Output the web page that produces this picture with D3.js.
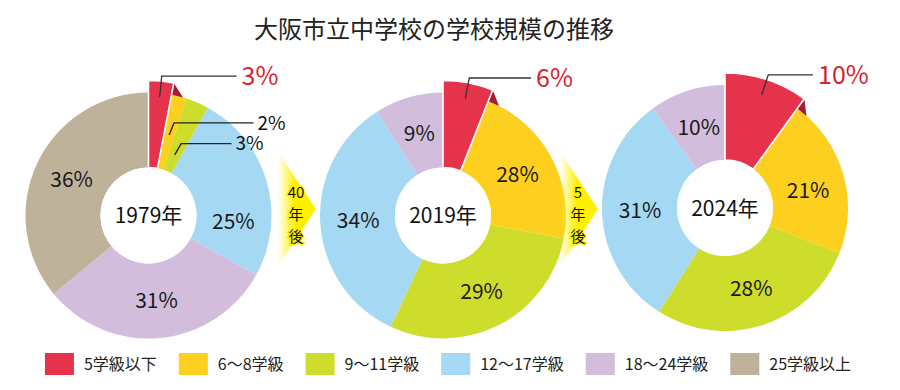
<!DOCTYPE html>
<html><head><meta charset="utf-8">
<script src="https://cdn.jsdelivr.net/npm/d3@7"></script>
<style>
html,body{margin:0;padding:0;background:#fff;}
svg text{font-family:"Noto Sans CJK JP","Noto Sans",sans-serif;}
</style></head>
<body>
<svg id="chart" width="900" height="390"></svg>
<script>
const title = "大阪市立中学校の学校規模の推移";
const categories = ["5学級以下","6～8学級","9～11学級","12～17学級","18～24学級","25学級以上"];
const colors = ["#e6334c","#fdd01f","#cedc2b","#a4d8f3","#d3bddc","#bfb29b"];
const years = ["1979年","2019年","2024年"];
const values1979 = [3,2,3,25,31,36];
const values2019 = [6,22,29,34,9,0];
const values2024 = [10,21,28,31,10,0];
const labels1979 = ["3%","2%","3%","25%","31%","36%"];
const labels2019 = ["6%","28%","29%","34%","9%",""];
const labels2024 = ["10%","21%","28%","31%","10%",""];
const arrowTexts = [["40","年","後"],["5","年","後"]];

const svg = d3.select("#chart");

// title
svg.append("text").attr("x",434).attr("y",38).attr("text-anchor","middle")
  .attr("font-size",24).attr("fill","#222").text(title);

// layout
const layout = [
  {cx:148.5, cy:215.5},
  {cx:443, cy:215.5},
  {cx:725, cy:208}
];
const R = 123, R0 = 48, Rx = 135;
const datasets = [
  {vals:values1979, labels:labels1979},
  {vals:values2019, labels:labels2019},
  {vals:values2024, labels:labels2024}
];
const pie = d3.pie().sort(null).value(d=>d.v);
const arc = d3.arc().innerRadius(R0).outerRadius(R);
const arcX = d3.arc().innerRadius(R0).outerRadius(Rx);
const polar = (r,a)=>[r*Math.sin(a), -r*Math.cos(a)];

// callout settings for small slices (index -> radii)
const smallCallout = {1:{r1:83,r2:96,end:105}, 2:{r1:66,r2:79,end:83}};
const labelShift = {"0-3": 20*Math.PI/180, "2-1": 4*Math.PI/180};

datasets.forEach((ds,ci)=>{
  const L = layout[ci];
  const g = svg.append("g").attr("transform",`translate(${L.cx},${L.cy})`);
  const data = ds.vals.map((v,i)=>({v, i}));
  const arcs = pie(data);
  g.selectAll("path.slice").data(arcs.filter(a=>a.data.i>0 && a.data.v>0)).join("path")
    .attr("class","slice").attr("d",arc).attr("fill",a=>colors[a.data.i]);
  const red = arcs[0];
  const a1 = red.endAngle;
  const tri = [polar(Rx,a1), polar(R,a1), polar(R,a1+5.5*Math.PI/180)];
  g.append("path").attr("d","M"+tri.map(p=>p.join(",")).join("L")+"Z").attr("fill","#a41c35");
  g.append("path").attr("d",arcX(red)).attr("fill",colors[0]).attr("stroke","#fff").attr("stroke-width",1.6);
  g.append("circle").attr("r",R0).attr("fill","#fff");
  g.append("text").attr("text-anchor","middle").attr("dy","0.36em").attr("font-size",21)
    .attr("fill","#111").text(years[ci]);
  arcs.forEach(a=>{
    const i = a.data.i;
    if(i===0 || a.data.v===0) return;
    if(ci===0 && smallCallout[i]){
      const c = smallCallout[i];
      const m = (a.startAngle+a.endAngle)/2;
      const p1 = polar(c.r1,m), p2 = polar(c.r2,m+1*Math.PI/180);
      g.append("path").attr("d",`M${p1}L${p2}L${c.end},${p2[1]}`).attr("fill","none")
        .attr("stroke","#222").attr("stroke-width",1.3);
      g.append("text").attr("x",c.end+4).attr("y",p2[1]).attr("dy","0.36em").attr("font-size",19)
        .attr("fill","#111").text(ds.labels[i]);
      return;
    }
    const m = (a.startAngle+a.endAngle)/2 + (labelShift[ci+"-"+i]||0);
    const p = polar(85,m);
    g.append("text").attr("x",p[0]).attr("y",p[1]).attr("dy","0.36em").attr("text-anchor","middle")
      .attr("font-size",21).attr("fill","#1a1a1a").text(ds.labels[i]);
  });
  const m = (red.startAngle+red.endAngle)/2;
  const p1 = polar(119,m), p2 = polar(140,m);
  const endX = 88;
  g.append("path").attr("d",`M${p1}L${p2}L${endX},${p2[1]}`).attr("fill","none")
    .attr("stroke","#333").attr("stroke-width",1.3);
  g.append("text").attr("x",endX+5).attr("y",p2[1]).attr("dy","0.36em").attr("font-size",25)
    .attr("fill","#d81f30").text(ds.labels[0]);
});

// arrows
const defs = svg.append("defs");
const grad = defs.append("linearGradient").attr("id","ag").attr("x1","0").attr("x2","1").attr("y1","0").attr("y2","0");
grad.append("stop").attr("offset","0").attr("stop-color","#fff200").attr("stop-opacity",0);
grad.append("stop").attr("offset","0.45").attr("stop-color","#fff000").attr("stop-opacity",1);
grad.append("stop").attr("offset","1").attr("stop-color","#fff000").attr("stop-opacity",1);
arrowTexts.forEach((txt,k)=>{
  const tipX = layout[k+1].cx - R - 4;
  const tipY = 209;
  const left = tipX - 38;
  const ag = svg.append("g");
  ag.append("path").attr("d",`M${left},${tipY-57}L${tipX},${tipY}L${left},${tipY+57}Z`).attr("fill","url(#ag)");
  txt.forEach((t,j)=>{
    ag.append("text").attr("x",tipX-20).attr("y",tipY-16+j*22).attr("dy","0.36em")
      .attr("text-anchor","middle").attr("font-size",15).attr("fill","#111")
      .attr("stroke","#fff000").attr("stroke-width",3).attr("paint-order","stroke").text(t);
  });
});

// legend
const lg = svg.append("g");
let x = 0;
categories.forEach((c,i)=>{
  const it = lg.append("g").attr("transform",`translate(${x},0)`);
  it.append("rect").attr("x",0).attr("y",353).attr("width",29).attr("height",22).attr("fill",colors[i]);
  const t = it.append("text").attr("x",39).attr("y",364).attr("dy","0.36em").attr("font-size",16)
    .attr("fill","#222").text(c);
  const w = t.node().getComputedTextLength();
  x += 39 + w + 22;
});
const total = x - 22;
lg.attr("transform",`translate(${448 - total/2},0)`);
</script>
</body></html>
